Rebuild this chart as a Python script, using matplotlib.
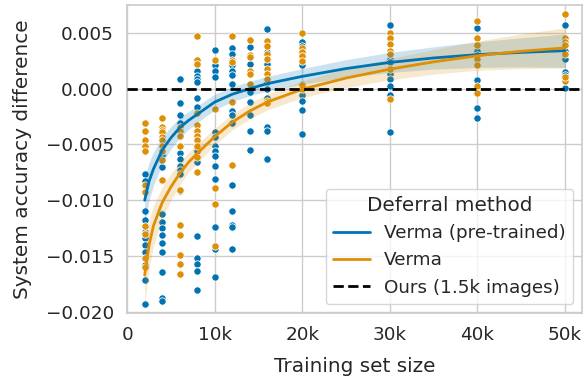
import numpy as np
import matplotlib
matplotlib.use('Agg')
import matplotlib.pyplot as plt
import seaborn as sns
from matplotlib.ticker import FuncFormatter

# 训练集大小 (k)
sizes = [2, 4, 6, 8, 10, 12, 14, 16, 20, 30, 40, 50]

# 散点 (单位 1e-3)
pre_pts = [
    [-7.6, -8.3, -11.0, -11.8, -12.8, -13.4, -14.0, -14.6, -15.8, -17.1, -19.3],
    [-5.9, -6.5, -7.0, -11.2, -11.9, -12.5, -13.1, -13.8, -14.6, -16.4, -18.75, -19.0],
    [0.9, -1.3, -2.4, -3.1, -5.8, -6.3, -6.9, -7.3, -7.6, -9.2],
    [2.1, 1.6, 1.1, 0.9, 0.6, -0.8, -1.6, -5.6, -6.6, -13.2, -15.2, -15.7, -16.3, -18.0],
    [3.5, 2.1, 1.6, 1.0, -3.9, -4.3, -5.1, -5.6, -6.0, -6.9, -8.1, -12.4, -14.4, -16.9],
    [3.6, 3.1, 2.1, 1.6, 1.25, 0.4, -2.0, -2.4, -3.1, -8.6, -11.0, -12.2, -12.4, -14.4],
    [3.7, 2.2, -0.3, -1.2, -2.4, -3.8, -5.5],
    [5.3, 3.3, 3.0, 2.2, 0.6, 0.0, -0.8, -3.4, -3.8, -6.3],
    [4.2, 3.8, 2.1, 0.4, 0.1, -0.6, -1.1, -1.95, -4.1],
    [5.7, 2.7, 2.4, 1.3, 0.9, 0.25, -0.6, -3.9],
    [5.4, 3.4, 3.0, 0.8, -1.7, -2.6],
    [5.7, 3.4, 2.9, 2.7, 1.5, 1.2, 0.1],
]
verma_pts = [
    [-3.1, -3.8, -4.6, -5.1, -5.6, -8.6, -9.3, -12.3, -13.0, -15.2, -16.0],
    [-2.6, -3.4, -3.7, -3.9, -4.3, -4.6, -5.1, -5.6, -6.4, -8.2],
    [-3.4, -3.8, -4.2, -5.1, -9.1, -12.2, -13.1, -14.9, -15.7, -16.6],
    [4.7, 2.6, 2.2, -2.2, -3.3, -3.75, -4.2, -4.6, -5.1, -6.1, -7.5],
    [2.6, -1.8, -8.9, -10.3, -14.1],
    [4.7, 2.6, 2.4, -1.2, -6.8],
    [4.4, 3.0, 2.8, 1.6, 1.3, 0.4],
    [4.3, 3.8, 3.1, 2.7, 1.8, 1.3, 0.9, -1.1, -1.3],
    [5.0, 3.6, 3.3, 2.9, 2.5, 0.0, 0.3],
    [5.0, 4.5, 4.0, 3.4, 3.1, 1.8, -0.9],
    [6.1, 4.5, 3.9, 2.7, 2.1, 0.25, -0.35],
    [6.7, 4.5, 4.2, 3.9, 3.1, 0.7, 1.0],
]

# 拟合曲线与置信区间 (从图中读取, 单位 1e-3)
curve_x = [2, 2.5, 3, 4, 5, 6, 7, 8, 10, 12, 14, 16, 20, 25, 30, 35, 40, 45, 50]
pre_fit = [-10.0, -8.3, -7.2, -5.5, -4.4, -3.5, -2.85, -2.3, -1.2, -0.5, 0.0, 0.45,
           1.1, 1.8, 2.35, 2.75, 3.05, 3.25, 3.4]
pre_ci = [2.0, 1.7, 1.5, 1.2, 1.0, 0.9, 0.8, 0.75, 0.7, 0.65, 0.65, 0.65,
          0.7, 0.8, 0.9, 1.0, 1.15, 1.3, 1.5]
verma_fit = [-16.7, -14.0, -12.3, -10.2, -8.8, -7.6, -6.6, -5.8, -4.3, -3.0, -2.0, -1.2,
             -0.05, 0.95, 1.75, 2.4, 2.95, 3.35, 3.65]
verma_ci = [2.6, 2.1, 1.8, 1.4, 1.2, 1.0, 0.9, 0.85, 0.75, 0.7, 0.7, 0.7,
            0.75, 0.85, 0.95, 1.1, 1.3, 1.55, 1.8]

sns.set_theme(style='whitegrid', font_scale=1.2)
blue, orange = sns.color_palette('colorblind')[:2]

fig, ax = plt.subplots(figsize=(5.86, 3.79), dpi=100)
fig.subplots_adjust(left=0.217, right=0.994, top=0.987, bottom=0.174)


def draw(pts, fit, ci, color, label):
    xs = np.concatenate([[s * 1000] * len(p) for s, p in zip(sizes, pts)])
    ys = np.concatenate(pts) / 1000
    ax.scatter(xs, ys, s=28, color=color, edgecolor='white', linewidth=0.6, zorder=2)
    cx = np.array(curve_x) * 1000
    f = np.array(fit) / 1000
    c = np.array(ci) / 1000
    ax.fill_between(cx, f - c, f + c, color=color, alpha=0.2, linewidth=0, zorder=3)
    ax.plot(cx, f, color=color, lw=2, label=label, zorder=4)


draw(pre_pts, pre_fit, pre_ci, blue, 'Verma (pre-trained)')
draw(verma_pts, verma_fit, verma_ci, orange, 'Verma')
ax.axhline(0, color='black', ls='--', lw=2, label='Ours (1.5k images)', zorder=5)

ax.set_xlim(0, 52000)
ax.set_ylim(-0.0201, 0.0075)
ax.set_xticks([0, 10000, 20000, 30000, 40000, 50000])
ax.xaxis.set_major_formatter(FuncFormatter(lambda v, p: '0' if v == 0 else f'{int(v / 1000)}k'))
ax.yaxis.set_major_formatter(FuncFormatter(lambda v, p: f'{v:.3f}'.replace('-', '\u2212')))
ax.set_xlabel('Training set size', labelpad=9)
ax.set_ylabel('System accuracy difference', labelpad=10)
ax.legend(title='Deferral method', loc='lower right')

fig.savefig('out.png', dpi=100)
